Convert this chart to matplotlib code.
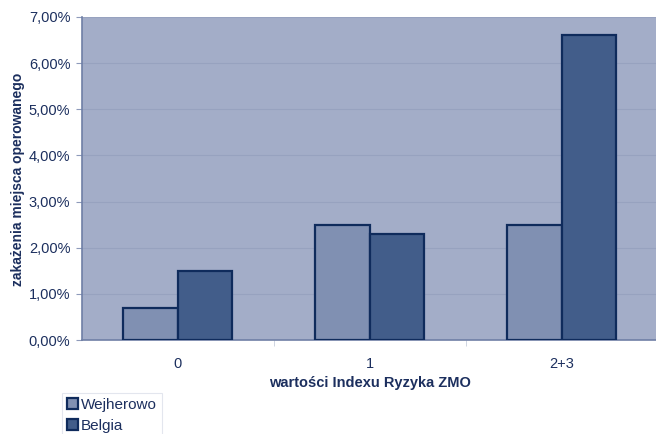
import matplotlib
matplotlib.use("Agg")
import matplotlib.pyplot as plt
import numpy as np
from matplotlib.ticker import FuncFormatter, MultipleLocator

categories = ["0", "1", "2+3"]
wejherowo = [0.70, 2.50, 2.50]
belgia = [1.50, 2.30, 6.60]
series_names = ["Wejherowo", "Belgia"]

plt.rcParams['font.family'] = ['Liberation Sans', 'DejaVu Sans']
txt = '#1c2f5e'
edge = '#0f2b5c'

fig = plt.figure(figsize=(6.56, 4.34), dpi=100)
ax = fig.add_axes([81.5/656, 1-340/434, (657.5-81.5)/656, (340-17)/434])
ax.set_facecolor('#a3adc8')

x = np.arange(len(categories))
w = 0.286
ax.bar(x - w/2, wejherowo, w, color='#8090b2', edgecolor=edge, linewidth=1.6, label=series_names[0], zorder=3)
ax.bar(x + w/2, belgia, w, color='#425d8a', edgecolor=edge, linewidth=1.6, label=series_names[1], zorder=3)

ax.set_xlim(-0.5, 2.5)
ax.set_ylim(0, 7)
ax.yaxis.set_major_locator(MultipleLocator(1))
ax.yaxis.set_major_formatter(FuncFormatter(lambda v, p: f"{v:.2f}%".replace('.', ',')))
ax.grid(axis='y', color='#97a2bf', linewidth=0.8, zorder=0)
ax.set_xticks(x)
ax.set_xticklabels(categories)
ax.set_xticks([0.5, 1.5], minor=True)
ax.tick_params(axis='x', which='major', length=0, pad=12, labelsize=10.5, labelcolor=txt)
ax.tick_params(axis='x', which='minor', length=4, color='#c8cedd', direction='out')
ax.tick_params(axis='y', length=4, color='#8e9aba', labelsize=10.5, labelcolor=txt, pad=4)

for s in ['top', 'right']:
    ax.spines[s].set_visible(False)
ax.spines['left'].set_color('#6f7fa6')
ax.spines['bottom'].set_color('#6f7fa6')
ax.spines['left'].set_linewidth(1.2)
ax.spines['bottom'].set_linewidth(1.2)

fig.text(370/656, 1-383/434, "wartości Indexu Ryzyka ZMO", ha='center', va='center',
         fontsize=10.5, fontweight='bold', color=txt)
fig.text(18/656, 1-179/434, "zakażenia miejsca operowanego", ha='center', va='center',
         rotation=90, fontsize=10, fontweight='bold', color=txt)

leg = fig.legend(loc='upper left', bbox_to_anchor=(62/656, 1-393/434), frameon=True,
                 fontsize=11, handlelength=0.75, handleheight=0.75, handletextpad=0.2,
                 labelspacing=0.5, borderpad=0.3, borderaxespad=0, fancybox=False)
leg.get_frame().set_edgecolor('#dde0ea')
leg.get_frame().set_linewidth(0.8)
for t in leg.get_texts():
    t.set_color(txt)

fig.savefig("out.png", dpi=100, facecolor='white')
